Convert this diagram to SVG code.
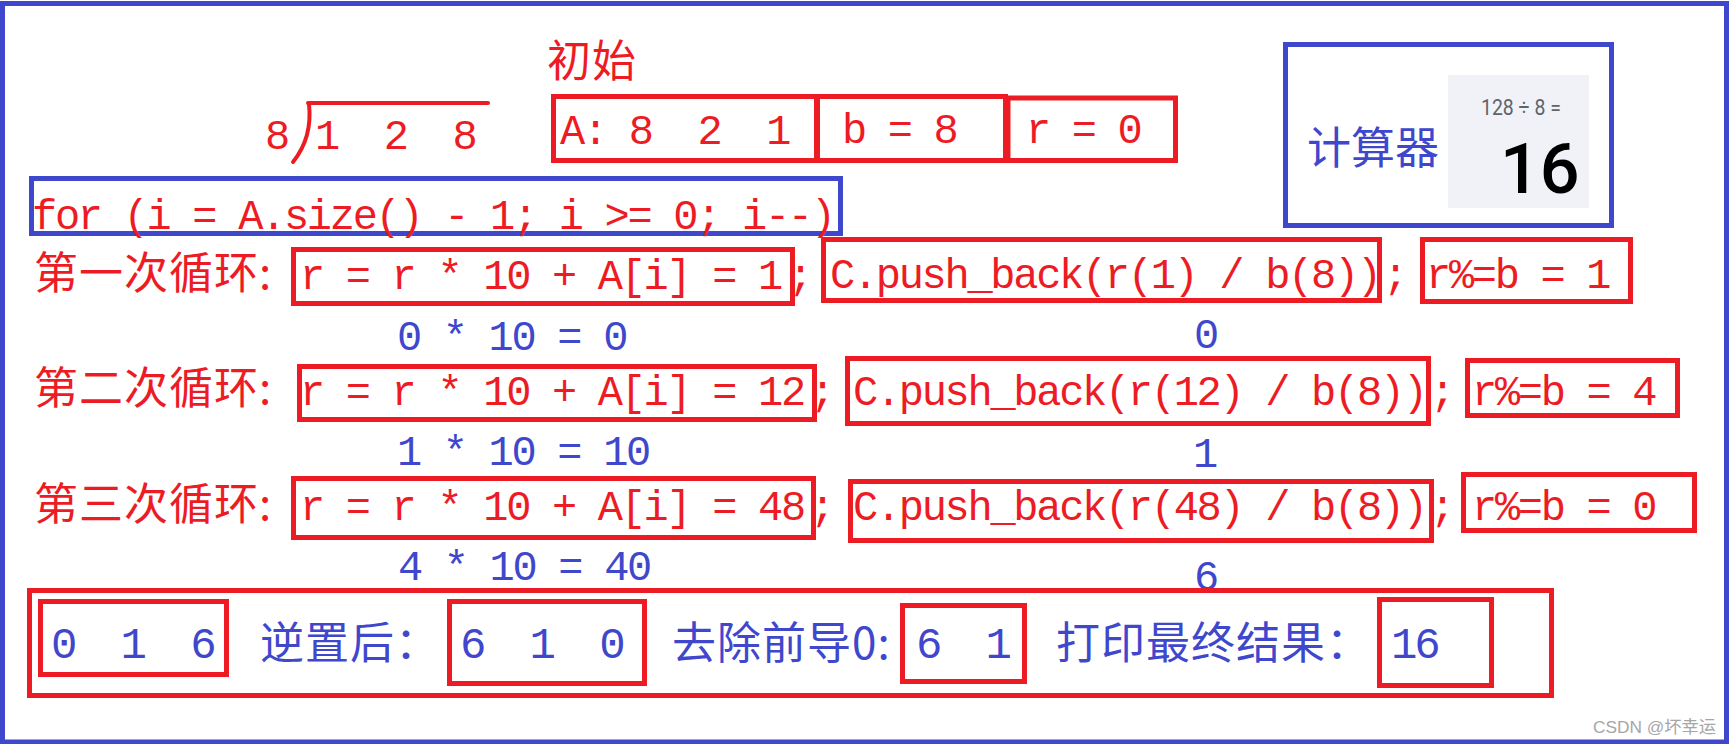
<svg xmlns="http://www.w3.org/2000/svg" width="1731" height="744" viewBox="0 0 1731 744">
<style>
text{white-space:pre}
.rb{fill:none;stroke:#ED1C24;stroke-width:5}
.bb{fill:none;stroke:#3F48CC;stroke-width:5}
.code{font-family:"Liberation Mono","Noto Sans CJK SC",monospace;font-size:42px;letter-spacing:-2.3px}
.big{font-family:"Liberation Mono","Noto Sans CJK SC",monospace;font-size:44px;letter-spacing:-3.2px}
.cjk{font-family:"Noto Sans CJK SC",sans-serif;font-size:44px;letter-spacing:1px}
.r{fill:#ED1C24}
.b{fill:#3F48CC}
</style>
<rect x="0" y="0" width="1731" height="744" fill="#ffffff"/>
<rect id="frame" x="2.5" y="3.5" width="1724" height="738.5" class="bb"/>

<g id="init-label"><text x="547" y="77" class="cjk r">初始</text></g>

<g id="division">
<text x="265" y="149" class="code r">8</text>
<text x="315" y="149" class="code r" xml:space="preserve">1  2  8</text>
<path d="M308 103 H488" fill="none" stroke="#ED1C24" stroke-width="4" stroke-linecap="round"/>
<path d="M309 104 C311 122 309 142 293 162" fill="none" stroke="#ED1C24" stroke-width="4" stroke-linecap="round"/>
</g>

<g id="init-A"><rect x="553.5" y="96.5" width="263" height="64" class="rb"/><text x="560" y="144" class="code r" xml:space="preserve">A: 8  2  1</text></g>
<g id="init-b"><rect x="817.5" y="96.5" width="188" height="64" class="rb"/><text x="842" y="143" class="code r">b = 8</text></g>
<g id="init-r"><rect x="1008" y="98" width="167.5" height="62.5" class="rb"/><text x="1026" y="143" class="code r">r = 0</text></g>

<g id="calculator">
<rect x="1285.5" y="44.5" width="326" height="181" class="bb"/>
<text x="1307" y="164" class="cjk b" style="letter-spacing:0px">计算器</text>
<rect x="1448" y="75" width="141" height="133" fill="#F0F2F7"/>
<text x="1481" y="115" font-family="Roboto,sans-serif" font-size="22" fill="#5f6368" textLength="80" lengthAdjust="spacingAndGlyphs">128 ÷ 8 =</text>
<text x="1500" y="193" font-family="Roboto,sans-serif" font-size="70" font-weight="500" fill="#000000">16</text>
</g>

<g id="for-loop"><rect x="31.5" y="178.5" width="809" height="55" class="bb"/><text x="32" y="229" class="code r">for (i = A.size() - 1; i &gt;= 0; i--)</text></g>

<g id="loop1">
<text x="34" y="289" class="cjk r">第一次循环:</text>
<rect x="293.5" y="249.5" width="499" height="54" class="rb"/>
<text x="300" y="289" class="code r">r = r * 10 + A[i] = 1</text>
<text x="788" y="289" class="code r">;</text>
<rect x="823.5" y="239.5" width="556" height="61" class="rb"/>
<text x="830" y="288" class="code r">C.push_back(r(1) / b(8))</text>
<text x="1383" y="288" class="code r">;</text>
<rect x="1422.5" y="239.5" width="208" height="62" class="rb"/>
<text x="1426" y="288" class="code r">r%=b = 1</text>
</g>
<g id="calc1">
<text x="397" y="350" class="code b">0 * 10 = 0</text>
<text x="1194" y="348" class="code b">0</text>
</g>

<g id="loop2">
<text x="34" y="404" class="cjk r">第二次循环:</text>
<rect x="299.5" y="366.5" width="515" height="53" class="rb"/>
<text x="300" y="405" class="code r">r = r * 10 + A[i] = 12</text>
<text x="810" y="405" class="code r">;</text>
<rect x="847.5" y="358.5" width="581" height="65" class="rb"/>
<text x="853" y="405" class="code r">C.push_back(r(12) / b(8))</text>
<text x="1430" y="405" class="code r">;</text>
<rect x="1467.5" y="360.5" width="210" height="55" class="rb"/>
<text x="1472" y="405" class="code r">r%=b = 4</text>
</g>
<g id="calc2">
<text x="397" y="465" class="code b">1 * 10 = 10</text>
<text x="1193" y="467" class="code b">1</text>
</g>

<g id="loop3">
<text x="34" y="520" class="cjk r">第三次循环:</text>
<rect x="293.5" y="478.5" width="520" height="59" class="rb"/>
<text x="300" y="520" class="code r">r = r * 10 + A[i] = 48</text>
<text x="810" y="520" class="code r">;</text>
<rect x="850.5" y="481.5" width="581" height="59" class="rb"/>
<text x="853" y="520" class="code r">C.push_back(r(48) / b(8))</text>
<text x="1430" y="520" class="code r">;</text>
<rect x="1463.5" y="474.5" width="231" height="56" class="rb"/>
<text x="1472" y="520" class="code r">r%=b = 0</text>
</g>
<g id="calc3">
<text x="398" y="580" class="code b">4 * 10 = 40</text>
<text x="1194" y="590" class="code b">6</text>
</g>

<g id="result">
<rect x="29.5" y="590.5" width="1522" height="105" class="rb"/>
<rect x="40.5" y="601.5" width="186" height="73" class="rb"/>
<text x="51" y="658" class="big b" xml:space="preserve">0  1  6</text>
<text x="260" y="659" class="cjk b">逆置后：</text>
<rect x="449.5" y="601.5" width="195" height="82" class="rb"/>
<text x="460" y="658" class="big b" xml:space="preserve">6  1  0</text>
<text x="672" y="659" class="cjk b">去除前导0:</text>
<rect x="902.5" y="605.5" width="122" height="76" class="rb"/>
<text x="916" y="658" class="big b" xml:space="preserve">6  1</text>
<text x="1056" y="659" class="cjk b">打印最终结果：</text>
<rect x="1379.5" y="599.5" width="112" height="86" class="rb"/>
<text x="1391" y="658" class="big b">16</text>
</g>

<g id="watermark"><text x="1593" y="733" font-family="'Liberation Sans','Noto Sans CJK SC',sans-serif" font-size="17" fill="#a6a6a6" textLength="123" lengthAdjust="spacingAndGlyphs">CSDN @坏幸运</text></g>
</svg>
